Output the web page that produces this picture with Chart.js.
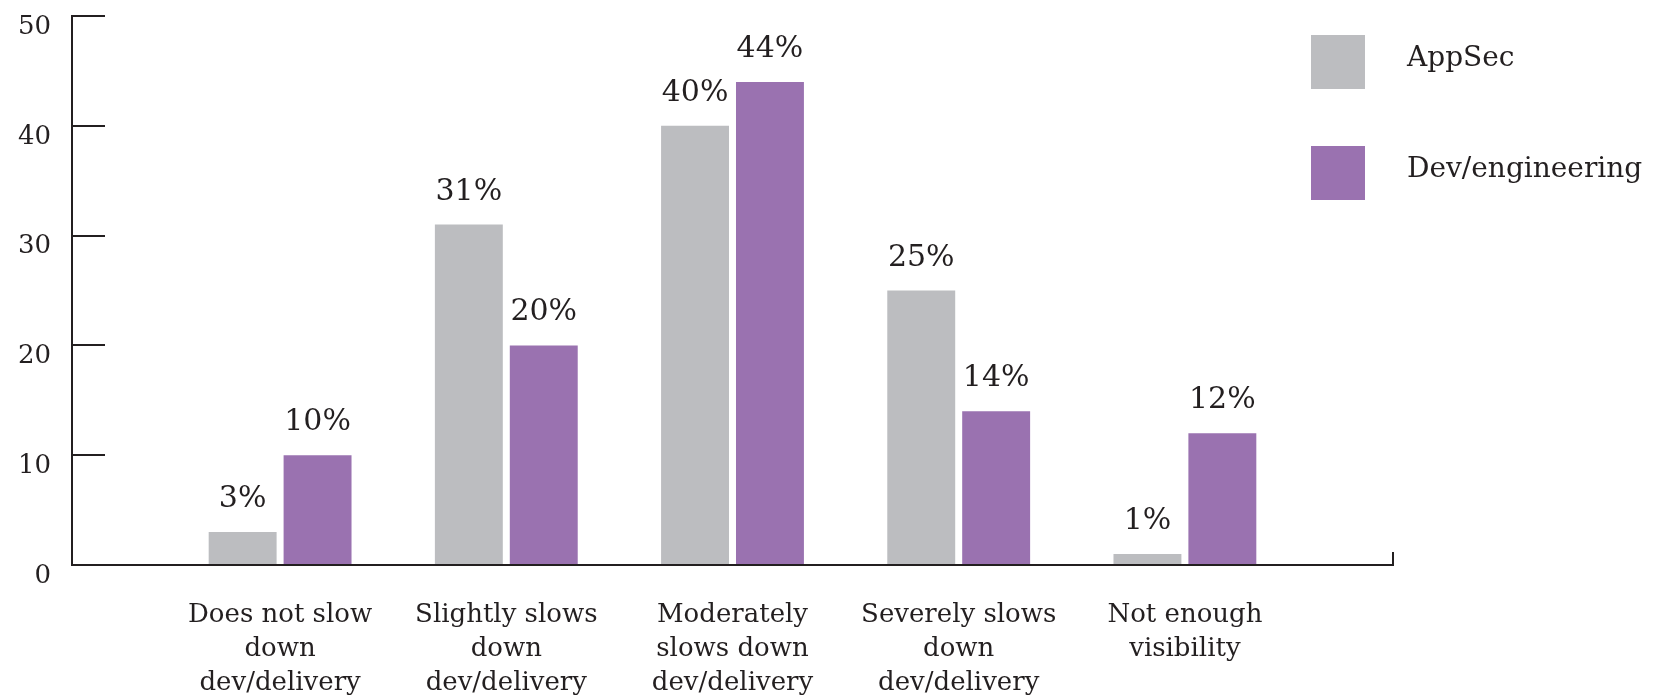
<!DOCTYPE html>
<html>
<head>
<meta charset="utf-8">
<script src="https://cdn.jsdelivr.net/npm/chart.js@4"></script>
<style>
  body { margin: 0; background: #fff; }
  #wrap { width: 1659px; height: 696px; }
</style>
</head>
<body>
<div id="wrap"><canvas id="impactChart"></canvas></div>
<script>
var categories = [
  ['Does not slow', 'down', 'dev/delivery'],
  ['Slightly slows', 'down', 'dev/delivery'],
  ['Moderately', 'slows down', 'dev/delivery'],
  ['Severely slows', 'down', 'dev/delivery'],
  ['Not enough', 'visibility']
];
var appSec = [3, 31, 40, 25, 1];
var devEng = [10, 20, 44, 14, 12];
var yTicks = [0, 10, 20, 30, 40, 50];
var seriesNames = ['AppSec', 'Dev/engineering'];
var seriesColors = ['#bcbdc0', '#9a72b0'];

var ink = '#231f20';
var serif = "'DejaVu Serif', serif";

// bars sit on a linear x scale so the axis can run past the outer categories
function points(values) {
  return values.map(function (v, i) { return { x: i, y: v }; });
}

var valueLabels = {
  id: 'valueLabels',
  afterDatasetsDraw: function (chart) {
    var ctx = chart.ctx;
    ctx.save();
    ctx.font = '30px ' + serif;
    ctx.fillStyle = ink;
    ctx.textAlign = 'center';
    ctx.textBaseline = 'alphabetic';
    chart.data.datasets.forEach(function (ds, di) {
      chart.getDatasetMeta(di).data.forEach(function (bar, i) {
        ctx.fillText(ds.data[i].y + '%', bar.x, bar.y - 25);
      });
    });
    ctx.restore();
  }
};

var sideLegend = {
  id: 'sideLegend',
  afterDraw: function (chart) {
    var ctx = chart.ctx;
    ctx.save();
    ctx.font = '28px ' + serif;
    ctx.textBaseline = 'alphabetic';
    chart.data.datasets.forEach(function (ds, i) {
      var top = 35 + i * 111;
      ctx.fillStyle = ds.backgroundColor;
      ctx.fillRect(1311, top, 54, 54);
      ctx.fillStyle = ink;
      ctx.fillText(ds.label, 1407, top + 31);
    });
    ctx.restore();
  }
};

var ctx1 = document.getElementById('impactChart');
var impactChart = new Chart(ctx1, {
  type: 'bar',
  data: {
    datasets: [{
      label: seriesNames[0],
      data: points(appSec),
      backgroundColor: seriesColors[0]
    }, {
      label: seriesNames[1],
      data: points(devEng),
      backgroundColor: seriesColors[1]
    }]
  },
  options: {
    responsive: true,
    maintainAspectRatio: false,
    animation: false,
    categoryPercentage: 0.72,
    barPercentage: 0.9067,
    layout: { padding: { top: 16, right: 266, left: 0, bottom: 0 } },
    plugins: {
      legend: { display: false },
      tooltip: { enabled: false }
    },
    scales: {
      x: {
        type: 'linear',
        min: -0.92,
        max: 4.92,
        offset: false,
        grid: {
          offset: false,
          drawOnChartArea: false,
          lineWidth: 2,
          tickLength: -13,
          tickColor: function (c) {
            // only the two end ticks are visible
            if (!c.tick) return ink;
            return Number.isInteger(c.tick.value) ? 'rgba(0,0,0,0)' : ink;
          }
        },
        border: { color: ink, width: 2 },
        ticks: {
          stepSize: 1,
          autoSkip: false,
          maxRotation: 0,
          padding: 46,
          color: ink,
          font: { family: serif, size: 26, lineHeight: '34px' },
          callback: function (v) {
            return Number.isInteger(v) ? categories[v] : '';
          }
        },
        afterFit: function (s) {
          s.height = 131;
          s.paddingLeft = 0;
          s.paddingRight = 0;
        }
      },
      y: {
        min: 0,
        max: 50,
        grid: {
          drawOnChartArea: false,
          lineWidth: 2,
          tickLength: -33,
          tickColor: ink
        },
        border: { color: ink, width: 2 },
        ticks: {
          padding: 54,
          labelOffset: 11,
          color: ink,
          font: { family: serif, size: 26 }
        },
        afterBuildTicks: function (s) {
          s.ticks = yTicks.map(function (v) { return { value: v }; });
        },
        afterFit: function (s) {
          s.width = 72;
          s.paddingTop = 0;
          s.paddingBottom = 0;
        }
      }
    }
  },
  plugins: [valueLabels, sideLegend]
});
</script>
</body>
</html>
